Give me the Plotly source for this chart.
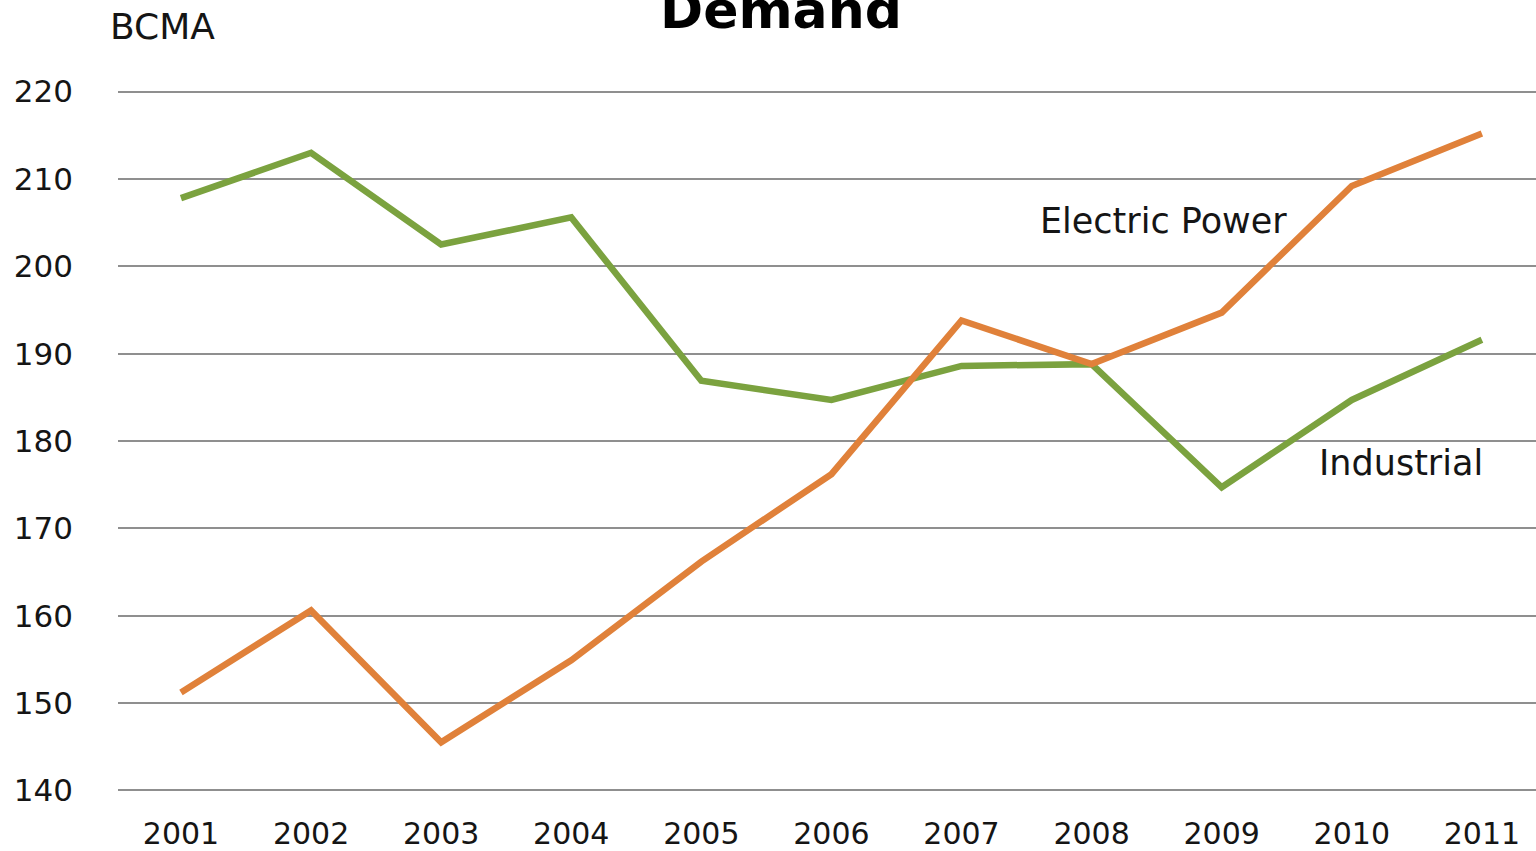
import plotly.graph_objects as go

years = ["2001", "2002", "2003", "2004", "2005", "2006", "2007", "2008", "2009", "2010", "2011"]
industrial = [207.8, 213.0, 202.5, 205.6, 186.9, 184.7, 188.6, 188.8, 174.7, 184.7, 191.6]
electric_power = [151.2, 160.6, 145.5, 154.9, 166.2, 176.2, 193.8, 188.8, 194.7, 209.2, 215.2]
y_ticks = [140, 150, 160, 170, 180, 190, 200, 210, 220]

FONT = "DejaVu Sans"
TXT = "#151515"

fig = go.Figure()
fig.add_trace(go.Scatter(x=years, y=industrial, mode="lines", name="Industrial",
                         line=dict(color="#7BA23F", width=6.5)))
fig.add_trace(go.Scatter(x=years, y=electric_power, mode="lines", name="Electric Power",
                         line=dict(color="#E0813A", width=6.5)))

fig.update_layout(
    width=1536, height=851,
    margin=dict(l=118, r=0, t=89, b=58),
    paper_bgcolor="white", plot_bgcolor="white",
    showlegend=False,
    font=dict(family=FONT, color=TXT),
    xaxis=dict(type="category", range=[-0.484, 10.416], showgrid=False,
               showline=False, zeroline=False, ticks="", automargin=False,
               tickfont=dict(size=30, family=FONT, color=TXT), ticklabelstandoff=20),
    yaxis=dict(range=[139.7, 220.3], tickvals=y_ticks, showgrid=True,
               gridcolor="#8f8f8f", gridwidth=2, zeroline=False, showline=False,
               ticks="", automargin=False,
               tickfont=dict(size=31, family=FONT, color=TXT), ticklabelstandoff=44),
    annotations=[
        dict(text="BCMA", xref="paper", yref="paper", x=-0.007, y=1.0, yshift=40,
             xanchor="left", yanchor="bottom", showarrow=False,
             font=dict(size=36, family=FONT, color=TXT)),
        dict(text="<b>Demand</b>", xref="paper", yref="paper", x=0.4676, y=1.0, yshift=47,
             xanchor="center", yanchor="bottom", showarrow=False,
             font=dict(size=52, family=FONT, color="#000000")),
        dict(text="Electric Power", x=7.556, y=205.2, xref="x", yref="y",
             xanchor="center", yanchor="middle", showarrow=False,
             font=dict(size=35, family=FONT, color=TXT)),
        dict(text="Industrial", x=9.377, y=177.5, xref="x", yref="y",
             xanchor="center", yanchor="middle", showarrow=False,
             font=dict(size=35, family=FONT, color=TXT)),
    ],
)

fig.write_html("out.html", config={"displayModeBar": False},
               post_script="document.body.style.margin='0';document.body.style.overflow='hidden';")
